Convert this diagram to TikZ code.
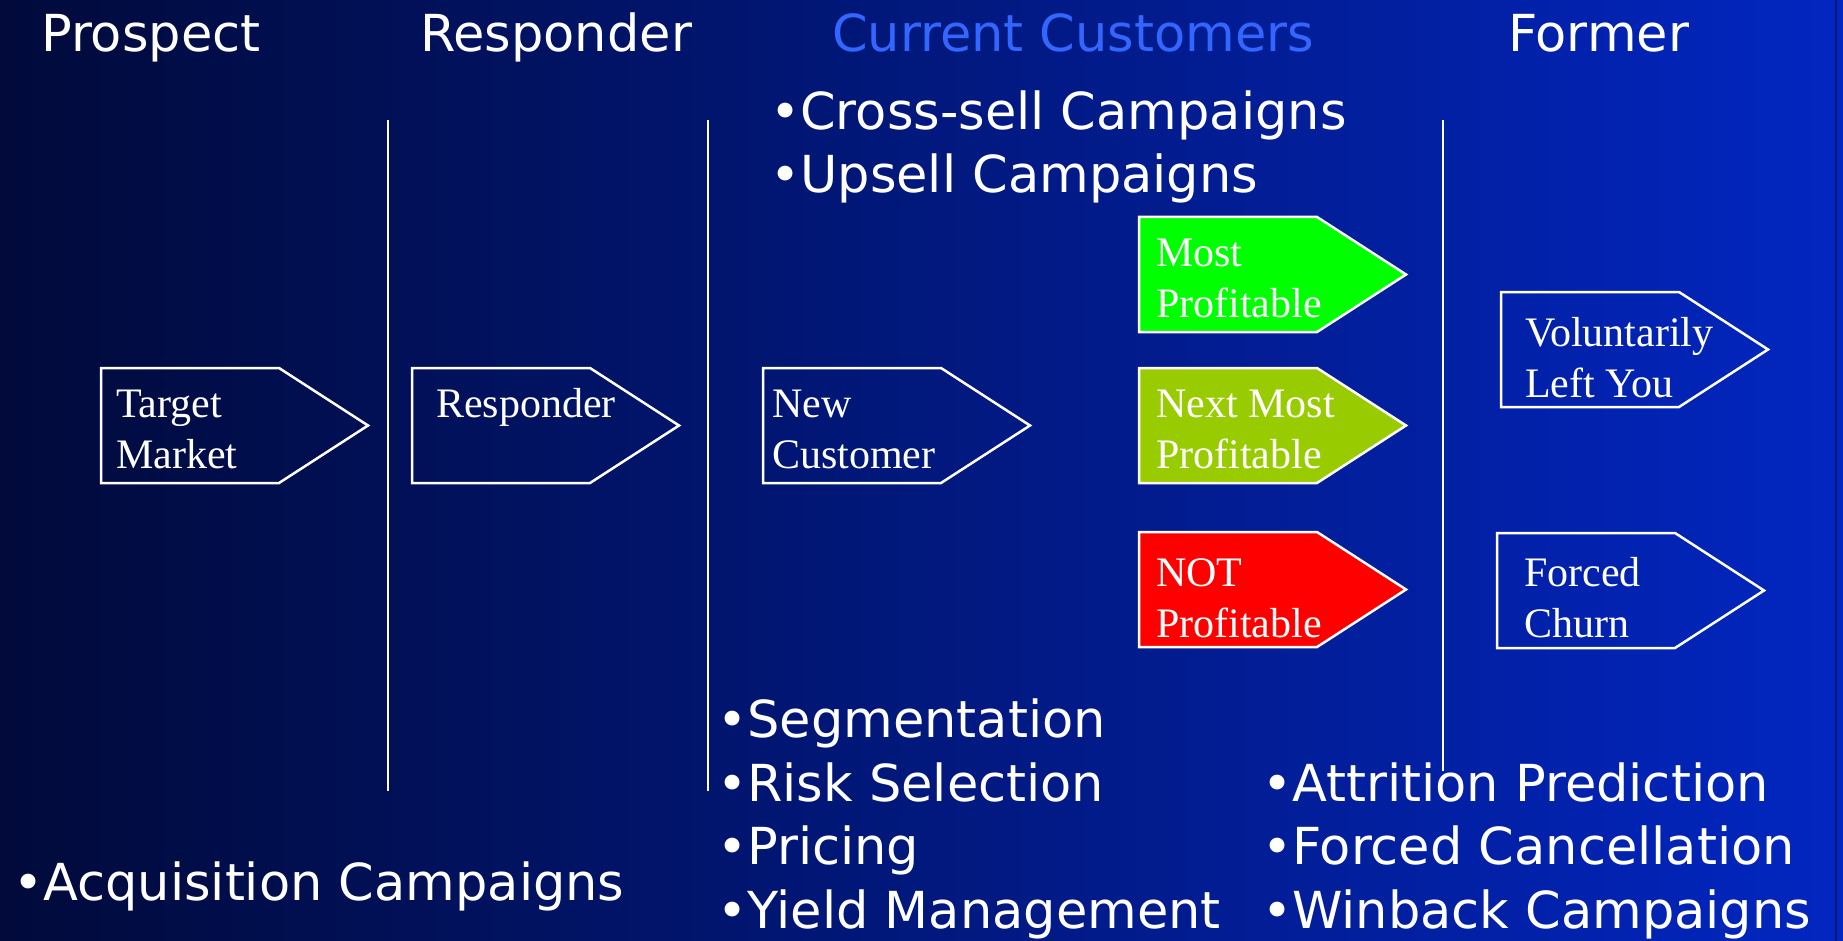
\documentclass[tikz,border=0pt]{standalone}
\usepackage{fontspec}
\setmainfont{Liberation Serif}
\newfontfamily\slidefont{DejaVu Sans}
\usetikzlibrary{positioning}

\definecolor{bgleft}{RGB}{1,10,58}
\definecolor{bgmid}{RGB}{4,26,132}
\definecolor{bgright}{RGB}{2,38,192}
\definecolor{curblue}{RGB}{51,102,255}
\definecolor{mostgreen}{RGB}{0,255,0}
\definecolor{nextgreen}{RGB}{153,204,0}
\definecolor{notred}{RGB}{255,0,0}

% arrow-shaped box: name, left x, top y, fill
\newcommand{\tagbox}[4]{%
  \draw[tagline,fill=#4] (#2,#3) coordinate (#1) -- ++(178,0) -- ++(89,57.5)
    -- ++(-89,57.5) -- ++(-178,0) -- cycle;}

\begin{document}
\begin{tikzpicture}[x=1pt,y=-1pt]
\tikzstyle heading=[anchor=base west,inner sep=0,text=white,
    font=\slidefont\fontsize{51}{63.5}\selectfont]
\tikzstyle bulletline=[heading,align=left]
\tikzstyle boxtext=[anchor=base west,inner sep=0,text=white,align=left,
    font=\fontsize{42}{50.5}\selectfont]
\tikzstyle tagline=[draw=white,line width=2.5pt,line join=miter]
\tikzstyle divider=[white,line width=2pt]
 \useasboundingbox (0,0) rectangle (1843,941);
 \shade[left color=bgleft,middle color=bgmid,right color=bgright]
   (0,0) rectangle (1843,941);
 \draw[bgleft!60!bgright,line width=2pt] (1836,0) -- (1836,941);
 % column dividers
 \draw[divider] (388,120) -- (388,791);
 \draw[divider] (708,120) -- (708,791);
 \draw[divider] (1443,120) -- (1443,771);
 % column headings
 \node[heading] (prospect) at (41,52) {Prospect};
 \node[heading] (responder) at (420,52) {Responder};
 \node[heading,text=curblue] (current) at (832,52) {Current Customers};
 \node[heading] (former) at (1508,52) {Former};
 % arrow boxes
 \tagbox{tm}{101}{368}{none}
 \tagbox{resp}{412}{368}{none}
 \tagbox{nc}{763}{368}{none}
 \tagbox{most}{1139}{217}{mostgreen}
 \tagbox{next}{1139}{368}{nextgreen}
 \tagbox{notp}{1139}{532}{notred}
 \tagbox{vol}{1501}{292}{none}
 \tagbox{forced}{1497}{533}{none}
 % (base = last line)
 \node[boxtext] (tmtext) at (116,468) {Target\\Market};
 \node[boxtext] (resptext) at (436,417) {Responder};
 \node[boxtext] (nctext) at (772,468) {New\\Customer};
 \node[boxtext] (mosttext) at (1156,317) {Most\\Profitable};
 \node[boxtext] (nexttext) at (1156,468) {Next Most\\Profitable};
 \node[boxtext] (nottext) at (1156,637) {NOT\\Profitable};
 \node[boxtext] (voltext) at (1525,397) {Voluntarily\\Left You};
 \node[boxtext] (forcedtext) at (1524,637) {Forced\\Churn};
 % campaign lists
 \node[bulletline] (sell) at (770,193) {•Cross-sell Campaigns\\•Upsell Campaigns};
 \node[bulletline] (acq) at (13,900) {•Acquisition Campaigns};
 \node[bulletline] (seg) at (717,928)
   {•Segmentation\\•Risk Selection\\•Pricing\\•Yield Management};
 \node[bulletline] (attr) at (1262,928)
   {•Attrition Prediction\\•Forced Cancellation\\•Winback Campaigns};
\end{tikzpicture}
\end{document}
